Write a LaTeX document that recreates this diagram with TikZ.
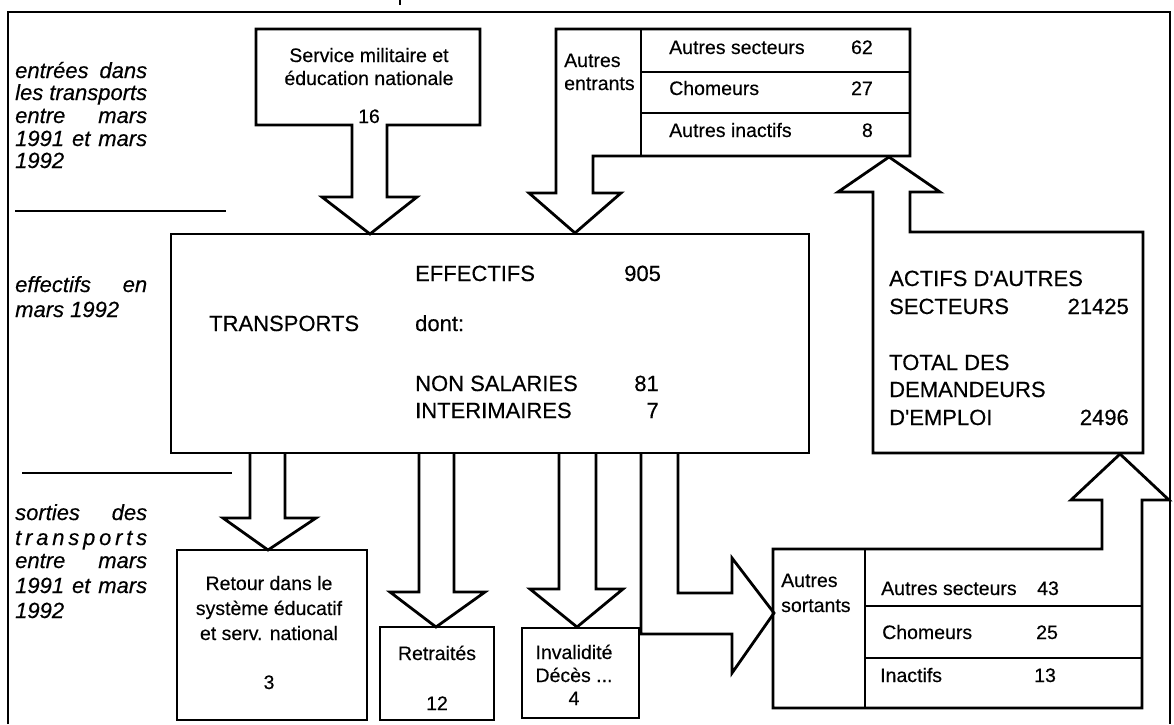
\documentclass[tikz,border=0pt]{standalone}
\usepackage{fontspec}
\setmainfont{Liberation Sans}[Ligatures=TeXOff, FakeBold=0.35]
\newcommand{\jline}[1]{\hbox to 132pt{#1}}
\begin{document}
\begin{tikzpicture}[x=1pt,y=-1pt,
  ln/.style={line width=2.8pt, line join=miter, miter limit=4},
  thin/.style={line width=1.4pt},
  big/.style={font=\fontsize{22}{24}\selectfont, inner sep=0pt},
  lab/.style={font=\fontsize{19.5}{22}\selectfont, inner sep=0pt},
  side/.style={font=\fontsize{22}{22.5}\selectfont\itshape, inner sep=0pt, anchor=base west}]
\useasboundingbox (0,0) rectangle (1174,724);
% outer frame and cut-off title mark
\draw[line width=2pt] (8,724) -- (8,12) -- (1170,12) -- (1170,724);
\draw[line width=2pt] (400,0) -- (400,5);
% left separators
\draw[thin] (15,211) -- (226,211);
\draw[thin] (22,473) -- (232,473);
% left texts
\node[side] (a1) at (15,78) {\jline{entrées\hfill dans}};
\node[side] (a2) at (15,100) {\jline{les\hfill transports}};
\node[side] (a3) at (15,123) {\jline{entre\hfill mars}};
\node[side] (a4) at (15,146) {\jline{1991\hfill et\hfill mars}};
\node[side] (a5) at (15,168) {1992};
\node[side] (b1) at (15,292) {\jline{effectifs\hfill en}};
\node[side] (b2) at (15,317) {mars 1992};
\node[side] (c1) at (15,520) {\jline{sorties\hfill des}};
\node[side] (c2) at (15,545) {\jline{t\hfill r\hfill a\hfill n\hfill s\hfill p\hfill o\hfill r\hfill t\hfill s}};
\node[side] (c3) at (15,568) {\jline{entre\hfill mars}};
\node[side] (c4) at (15,593) {\jline{1991\hfill et\hfill mars}};
\node[side] (c5) at (15,618) {1992};
% Service militaire box with down arrow
\draw[ln] (256,29) -- (480,29) -- (480,125) -- (387,125) -- (387,197) -- (417,197)
  -- (370,234) -- (322,197) -- (352,197) -- (352,125) -- (256,125) -- cycle;
\node[lab, anchor=base] (sm1) at (369,62) {Service militaire et};
\node[lab, anchor=base] (sm2) at (369,85) {éducation nationale};
\node[lab, anchor=base] (sm3) at (369,123) {16};
% Autres entrants table with down arrow
\draw[ln] (556,29) -- (910,29) -- (910,156) -- (593,156) -- (593,193) -- (621,193)
  -- (575,233) -- (529,193) -- (556,193) -- cycle;
\draw[ln] (641,29) -- (641,156);
\draw[ln] (641,72) -- (910,72);
\draw[ln] (641,113) -- (910,113);
\node[lab, anchor=base west] (ae1) at (564,67) {Autres};
\node[lab, anchor=base west] (ae2) at (564,90) {entrants};
\node[lab, anchor=base west] (t1) at (669,54) {Autres secteurs};
\node[lab, anchor=base east] (t1n) at (873,54) {62};
\node[lab, anchor=base west] (t2) at (669,95) {Chomeurs};
\node[lab, anchor=base east] (t2n) at (873,95) {27};
\node[lab, anchor=base west] (t3) at (669,137) {Autres inactifs};
\node[lab, anchor=base east] (t3n) at (873,137) {8};
% main box
\draw[ln] (171,234) rectangle (809,453);
\node[big, anchor=base west] (m1) at (415,281) {EFFECTIFS};
\node[big, anchor=base west] (m1n) at (624,281) {905};
\node[big, anchor=base west] (m0) at (209,331) {TRANSPORTS};
\node[big, anchor=base west] (m2) at (415,331) {dont:};
\node[big, anchor=base west] (m3) at (415,391) {NON SALARIES};
\node[big, anchor=base east] (m3n) at (659,391) {81};
\node[big, anchor=base west] (m4) at (415,418) {INTERIMAIRES};
\node[big, anchor=base east] (m4n) at (659,418) {7};
% ACTIFS box with up arrow to the upper table
\draw[ln] (873,453) -- (1143,453) -- (1143,232) -- (910,232) -- (910,192) -- (940,192)
  -- (889,157) -- (838,192) -- (873,192) -- cycle;
\node[big, anchor=base west] (r1) at (889,286) {ACTIFS D'AUTRES};
\node[big, anchor=base west] (r2) at (889,314) {SECTEURS};
\node[big, anchor=base east] (r2n) at (1129,314) {21425};
\node[big, anchor=base west] (r3) at (889,370) {TOTAL DES};
\node[big, anchor=base west] (r4) at (889,397) {DEMANDEURS};
\node[big, anchor=base west] (r5) at (889,425) {D'EMPLOI};
\node[big, anchor=base east] (r5n) at (1129,425) {2496};
% outgoing arrows
\draw[ln] (250,453) -- (250,518) -- (223,518) -- (268,550) -- (316,518) -- (285,518) -- (285,453);
\draw[ln] (419,453) -- (419,592) -- (390,592) -- (436,627) -- (485,592) -- (454,592) -- (454,453);
\draw[ln] (559,453) -- (559,589) -- (530,589) -- (577,627) -- (623,589) -- (596,589) -- (596,453);
\draw[ln] (641,453) -- (641,634) -- (732,634) -- (732,673) -- (774,613) -- (732,558) -- (732,593) -- (678,593) -- (678,453);
% Retour box
\draw[ln] (177,550) rectangle (367,720);
\node[lab, anchor=base] (rt1) at (269,590) {Retour dans le};
\node[lab, anchor=base] (rt2) at (269,615) {système éducatif};
\node[lab, anchor=base] (rt3) at (269,640) {et serv. national};
\node[lab, anchor=base] (rt4) at (269,689) {3};
% Retraites box
\draw[ln] (380,627) rectangle (494,720);
\node[lab, anchor=base] (re1) at (437,660) {Retraités};
\node[lab, anchor=base] (re2) at (437,710) {12};
% Invalidite box
\draw[ln] (522,628) rectangle (639,718);
\node[lab, anchor=base] (in1) at (574,659) {Invalidité};
\node[lab, anchor=base] (in2) at (574,682) {Décès ...};
\node[lab, anchor=base] (in3) at (574,705) {4};
% Autres sortants table with up arrow to ACTIFS box
\draw[ln] (773,549) -- (1102,549) -- (1102,500) -- (1071,500) -- (1120,454) -- (1169,500)
  -- (1142,500) -- (1142,708) -- (773,708) -- cycle;
\draw[ln] (865,549) -- (865,708);
\draw[ln] (865,606) -- (1142,606);
\draw[ln] (865,658) -- (1142,658);
\node[lab, anchor=base west] (as1) at (781,587) {Autres};
\node[lab, anchor=base west] (as2) at (781,612) {sortants};
\node[lab, anchor=base west] (s1) at (881,595) {Autres secteurs};
\node[lab, anchor=base west] (s1n) at (1037,595) {43};
\node[lab, anchor=base west] (s2) at (882,639) {Chomeurs};
\node[lab, anchor=base west] (s2n) at (1036,639) {25};
\node[lab, anchor=base west] (s3) at (880,682) {Inactifs};
\node[lab, anchor=base west] (s3n) at (1034,682) {13};
\end{tikzpicture}
\end{document}
